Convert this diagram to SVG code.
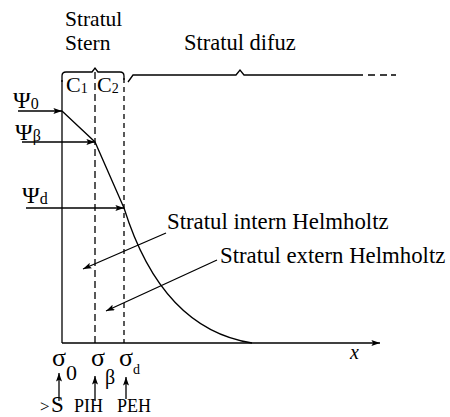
<svg xmlns="http://www.w3.org/2000/svg" width="450" height="417" viewBox="0 0 450 417">
<defs>
<marker id="ah" viewBox="0 0 10 7" refX="10" refY="3.5" markerWidth="9" markerHeight="6" markerUnits="userSpaceOnUse" orient="auto">
<path d="M0,0 L10,3.5 L0,7 L2,3.5 z" fill="#000"/>
</marker>
<style>
.t{font-family:"Liberation Serif","Times New Roman",serif;fill:#000}
.ln{fill:none;stroke:#000;stroke-width:1.3}
.ar{fill:none;stroke:#000;stroke-width:1.3;marker-end:url(#ah)}
.ds1{fill:none;stroke:#000;stroke-width:1.3;stroke-dasharray:7 4}
.ds2{fill:none;stroke:#000;stroke-width:1.3;stroke-dasharray:5 4}
</style>
</defs>
<rect width="450" height="417" fill="#fff"/>

<g id="labels-top">
<text class="t" x="65" y="26" font-size="21.5">Stratul</text>
<text class="t" x="65" y="50" font-size="21.5">Stern</text>
<text class="t" x="184" y="50" font-size="22.5">Stratul difuz</text>
<text class="t" x="66" y="92" font-size="22">C<tspan font-size="14" dy="1">1</tspan></text>
<text class="t" x="97" y="92" font-size="22">C<tspan font-size="14" dy="1">2</tspan></text>
</g>

<g id="brackets">
<path class="ln" d="M62,82 L62,76 Q62,72 66,72 L92,72 L95,68 L98,72 L120,72 Q124,72 124,76 L124,80"/>
<path class="ln" d="M128,82 L133,75 L236,75 L240,70 L244,75 L363,75"/>
<path class="ln" d="M368,75 L375,75 M380,75 L387,75 M391,75 L396,75"/>
</g>

<g id="axes">
<path class="ln" d="M62,80 L62,343"/>
<path class="ar" d="M62,343 L380,343"/>
<path class="ds1" d="M95,72 L95,343"/>
<path class="ds2" d="M124,78 L124,343"/>
<text class="t" x="350" y="359" font-size="20" font-style="italic">x</text>
</g>

<g id="potential">
<path class="ln" d="M62,111 L95,142 L124,208 C145,275 182,332 252,343"/>
</g>

<g id="psi-labels">
<text class="t" x="13" y="108" font-size="24">Ψ<tspan font-size="16" dy="1">0</tspan></text>
<text class="t" x="15" y="140" font-size="24">Ψ<tspan font-size="16" dy="1">β</tspan></text>
<text class="t" x="22" y="203" font-size="24">Ψ<tspan font-size="16" dy="1">d</tspan></text>
</g>

<g id="connectors">
<path class="ar" d="M18,111 L62,111"/>
<path class="ar" d="M22,142 L95,142"/>
<path class="ar" d="M26,208 L124,208"/>
<path class="ar" d="M166,233 L83,269"/>
<path class="ar" d="M217,260 L106,311"/>
<path class="ar" d="M59,401 L59,373"/>
<path class="ar" d="M95,401 L95,376"/>
<path class="ar" d="M126,399 L126,377"/>
</g>

<g id="layer-labels">
<text class="t" x="167" y="229" font-size="22.8">Stratul intern Helmholtz</text>
<text class="t" x="220" y="263" font-size="22.8">Stratul extern Helmholtz</text>
</g>

<g id="sigma-labels">
<text class="t" x="52" y="366" font-size="26">σ</text>
<text class="t" x="66" y="380" font-size="22">0</text>
<text class="t" x="91" y="366" font-size="26">σ</text>
<text class="t" x="105" y="384" font-size="20">β</text>
<text class="t" x="119" y="366" font-size="26">σ</text>
<text class="t" x="133" y="374" font-size="14">d</text>
</g>

<g id="bottom-labels">
<text class="t" x="40" y="412" font-size="17">&gt;</text>
<text class="t" x="51" y="412" font-size="23">S</text>
<text class="t" x="74" y="412" font-size="18">PIH</text>
<text class="t" x="117" y="412" font-size="18">PEH</text>
</g>
</svg>
